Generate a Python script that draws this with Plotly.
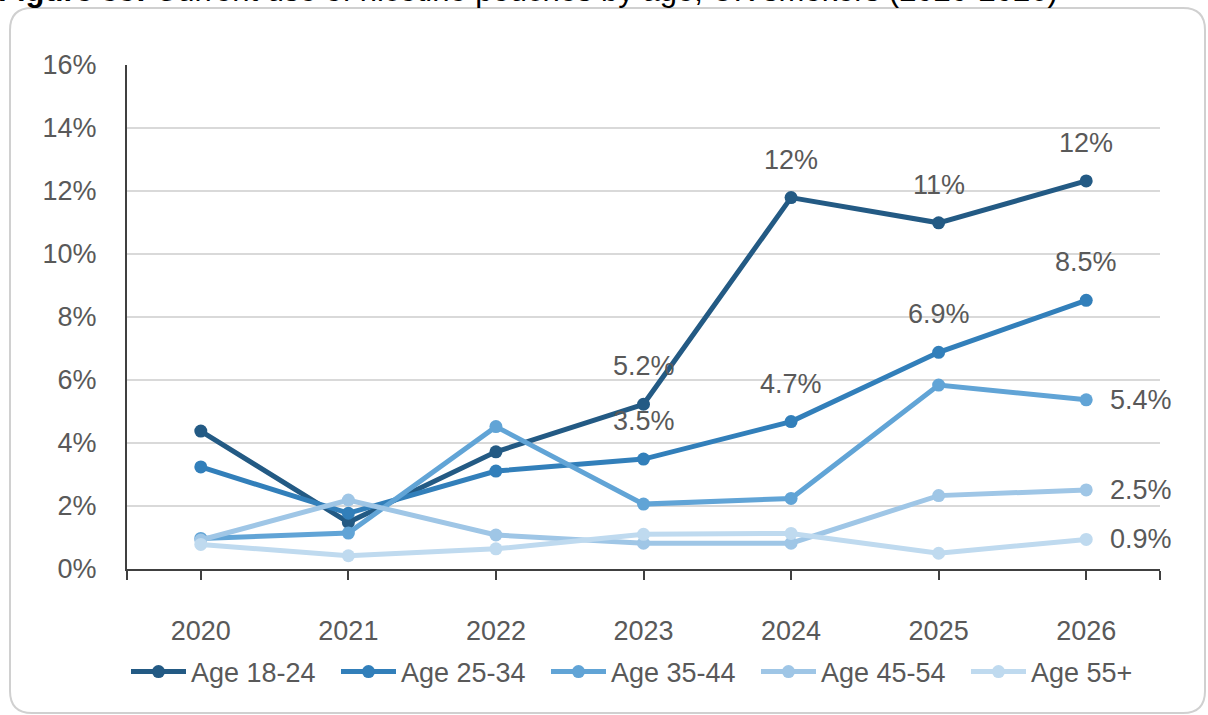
import plotly.graph_objects as go

# Survey years and share of smokers currently using nicotine pouches (%)
years = [2020, 2021, 2022, 2023, 2024, 2025, 2026]
year_labels = ["2020", "2021", "2022", "2023", "2024", "2025", "2026"]

age_18_24 = [4.38, 1.48, 3.72, 5.23, 11.79, 10.99, 12.32]
age_25_34 = [3.24, 1.77, 3.11, 3.49, 4.68, 6.88, 8.53]
age_35_44 = [0.97, 1.14, 4.52, 2.06, 2.24, 5.84, 5.37]
age_45_54 = [0.92, 2.19, 1.08, 0.82, 0.82, 2.33, 2.51]
age_55_plus = [0.78, 0.42, 0.64, 1.10, 1.13, 0.50, 0.94]

series_names = ["Age 18-24", "Age 25-34", "Age 35-44", "Age 45-54", "Age 55+"]
series_values = [age_18_24, age_25_34, age_35_44, age_45_54, age_55_plus]
series_colors = ["#235a84", "#327fba", "#61a4d6", "#9fc6e6", "#bfdaef"]

# Labels shown above points: (series index, year index, text)
top_labels = [
    (0, 3, "5.2%"), (0, 4, "12%"), (0, 5, "11%"), (0, 6, "12%"),
    (1, 3, "3.5%"), (1, 4, "4.7%"), (1, 5, "6.9%"), (1, 6, "8.5%"),
]
# Labels shown to the right of the last point
right_labels = [(2, 6, "5.4%"), (3, 6, "2.5%"), (4, 6, "0.9%")]

y_ticks = [0, 2, 4, 6, 8, 10, 12, 14, 16]
y_tick_labels = ["0%", "2%", "4%", "6%", "8%", "10%", "12%", "14%", "16%"]

W, H = 1208, 715
L, R, T, B = 127, 48, 65, 146
PW, PH = W - L - R, H - T - B

FONT = "Liberation Sans, Arial, sans-serif"
GREY = "#595959"
FS = 27


def px(xp):
    return (xp - L) / PW


def py(yp):
    return (H - B - yp) / PH


fig = go.Figure()
for name, vals, col in zip(series_names, series_values, series_colors):
    fig.add_trace(go.Scatter(
        x=years, y=vals, name=name, mode="lines+markers",
        line=dict(color=col, width=5),
        marker=dict(color=col, size=13),
        hoverinfo="skip",
    ))

annotations = []
for si, yi, txt in top_labels:
    annotations.append(dict(
        x=years[yi], y=series_values[si][yi], text=txt, showarrow=False,
        xref="x", yref="y", yshift=38, xanchor="center", yanchor="middle",
        font=dict(family=FONT, size=FS, color=GREY),
    ))
for si, yi, txt in right_labels:
    annotations.append(dict(
        x=years[yi], y=series_values[si][yi], text=txt, showarrow=False,
        xref="x", yref="y", xshift=22, xanchor="left", yanchor="middle",
        font=dict(family=FONT, size=FS, color=GREY),
    ))

# Caption line above the chart box
annotations.append(dict(
    x=px(-4), y=py(-10),
    xref="paper", yref="paper", showarrow=False,
    xanchor="left", yanchor="middle",
    text="<b>Figure 55:</b> Current use of nicotine pouches by age, UK smokers (2020-2026)",
    font=dict(family=FONT, size=31, color="#000000"),
))

# Rounded chart frame
x0, x1, y0, y1, r = 10, 1205, 8, 713, 22
path = (
    f"M {px(x0 + r)},{py(y0)} L {px(x1 - r)},{py(y0)} "
    f"Q {px(x1)},{py(y0)} {px(x1)},{py(y0 + r)} "
    f"L {px(x1)},{py(y1 - r)} Q {px(x1)},{py(y1)} {px(x1 - r)},{py(y1)} "
    f"L {px(x0 + r)},{py(y1)} Q {px(x0)},{py(y1)} {px(x0)},{py(y1 - r)} "
    f"L {px(x0)},{py(y0 + r)} Q {px(x0)},{py(y0)} {px(x0 + r)},{py(y0)} Z"
)

fig.update_layout(
    width=W, height=H,
    margin=dict(l=L, r=R, t=T, b=B, autoexpand=False),
    paper_bgcolor="white", plot_bgcolor="white",
    font=dict(family=FONT, size=FS, color=GREY),
    showlegend=True,
    legend=dict(
        orientation="h", x=px(126), y=py(672), xanchor="left", yanchor="middle",
        font=dict(family=FONT, size=FS, color=GREY),
        itemwidth=55, entrywidth=140, entrywidthmode="pixels",
        traceorder="normal", bgcolor="rgba(0,0,0,0)",
    ),
    annotations=annotations,
    shapes=[dict(type="path", path=path, xref="paper", yref="paper",
                 line=dict(color="#d0d0d0", width=2), layer="below")],
    xaxis=dict(
        range=[2019.5, 2026.5],
        tickvals=[2019.5] + years + [2026.5],
        ticktext=[""] + year_labels + [""],
        ticks="outside", ticklen=9, tickwidth=2, tickcolor="#404040",
        showline=True, linecolor="#404040", linewidth=2,
        showgrid=False, zeroline=False,
        ticklabelstandoff=28,
        tickfont=dict(family=FONT, size=FS, color=GREY),
    ),
    yaxis=dict(
        range=[0, 16], tickvals=y_ticks, ticktext=y_tick_labels,
        showline=True, linecolor="#404040", linewidth=2,
        showgrid=True, gridcolor="#d9d9d9", gridwidth=2,
        zeroline=False, ticks="",
        ticklabelstandoff=23,
        tickfont=dict(family=FONT, size=FS, color=GREY),
    ),
)

fig.write_html("out.html")
